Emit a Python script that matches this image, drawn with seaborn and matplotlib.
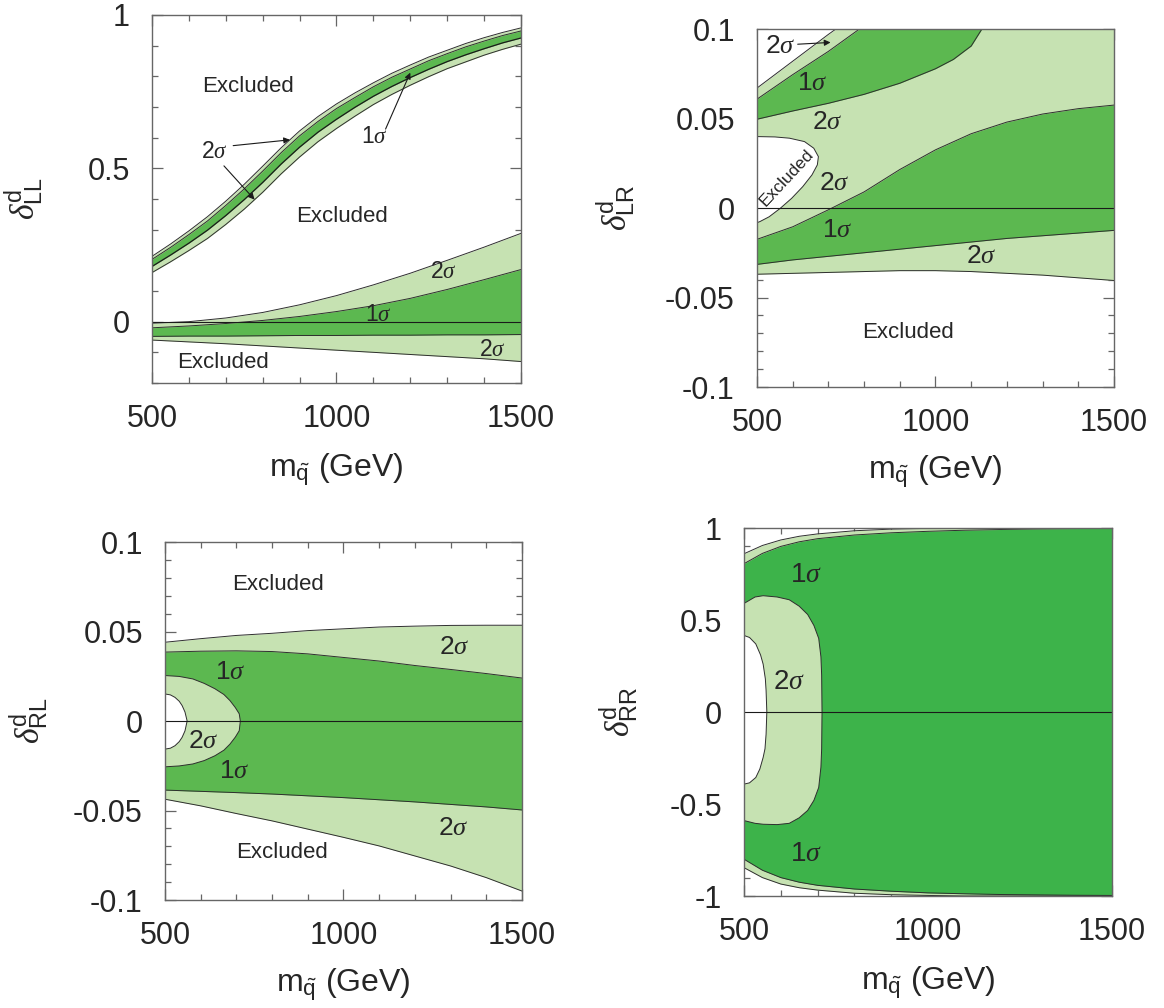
import matplotlib
matplotlib.use("Agg")
import matplotlib.pyplot as plt
from matplotlib.ticker import MultipleLocator
import seaborn as sns

# ---------------- data ----------------
# top-left: delta_LL, upper narrow band (grid every 50 GeV)
ll_up_m = [500, 550, 600, 650, 700, 750, 800, 850, 900, 950, 1000,
           1050, 1100, 1150, 1200, 1250, 1300, 1350, 1400, 1450, 1500]
ll_up_2hi = [0.213, 0.253, 0.296, 0.342, 0.393, 0.448, 0.507, 0.567, 0.622, 0.669, 0.710,
             0.746, 0.779, 0.810, 0.837, 0.863, 0.885, 0.907, 0.926, 0.943, 0.958]
ll_up_1hi = [0.203, 0.242, 0.284, 0.328, 0.379, 0.433, 0.491, 0.551, 0.606, 0.653, 0.695,
             0.731, 0.766, 0.797, 0.824, 0.851, 0.874, 0.896, 0.915, 0.933, 0.948]
ll_up_1lo = [0.180, 0.217, 0.256, 0.298, 0.346, 0.398, 0.454, 0.514, 0.569, 0.618, 0.660,
             0.699, 0.735, 0.767, 0.796, 0.823, 0.848, 0.870, 0.890, 0.909, 0.925]
ll_up_2lo = [0.160, 0.195, 0.232, 0.271, 0.317, 0.367, 0.422, 0.482, 0.537, 0.587, 0.630,
             0.670, 0.708, 0.741, 0.771, 0.799, 0.825, 0.847, 0.869, 0.888, 0.905]

# top-left: delta_LL, lower wedge band
m_grid = [500, 600, 700, 800, 900, 1000, 1100, 1200, 1300, 1400, 1500]
ll_lo_2hi = [-0.005, 0.0, 0.012, 0.03, 0.055, 0.085, 0.12, 0.158, 0.2, 0.243, 0.288]
ll_lo_1hi = [-0.02, -0.014, -0.006, 0.004, 0.017, 0.033, 0.052, 0.076, 0.105, 0.137, 0.17]
ll_lo_1lo = [-0.048, -0.047, -0.047, -0.046, -0.045, -0.045, -0.044, -0.044, -0.043, -0.043, -0.042]
ll_lo_2lo = [-0.060, -0.066, -0.072, -0.079, -0.086, -0.093, -0.100, -0.107, -0.114, -0.121, -0.130]

# top-right: delta_LR
lr_1hi_b = [-0.0175, -0.0105, -0.001, 0.009, 0.0215, 0.0325, 0.0415, 0.048, 0.0525, 0.0555, 0.0575]
lr_1lo_b = [-0.0315, -0.029, -0.027, -0.025, -0.023, -0.021, -0.019, -0.017, -0.0155, -0.014, -0.0125]
lr_2lo_b = [-0.037, -0.0365, -0.036, -0.0355, -0.035, -0.035, -0.0355, -0.0365, -0.0375, -0.039, -0.0405]
lr_1lo_a_m = [500, 600, 700, 800, 900, 1000, 1050, 1100, 1130]
lr_1lo_a = [0.0496, 0.0542, 0.0585, 0.0635, 0.0697, 0.0778, 0.083, 0.0905, 0.1]
lr_1hi_a_m = [500, 600, 700, 787]
lr_1hi_a = [0.0608, 0.0745, 0.0875, 0.1]
lr_2hi_a_m = [500, 600, 700, 721]
lr_2hi_a = [0.067, 0.082, 0.097, 0.1]
lr_excl_m = [500, 550, 591, 633, 659, 672, 669, 654, 628, 597, 565, 534, 508, 500]
lr_excl_v = [0.0399, 0.0397, 0.039, 0.0371, 0.0334, 0.0287, 0.0241, 0.0185, 0.0119,
             0.0054, -0.0002, -0.0049, -0.0076, -0.0082]

# bottom-left: delta_RL
rl_2hi = [0.044, 0.046, 0.0478, 0.049, 0.0505, 0.0515, 0.0525, 0.053, 0.0534, 0.0535, 0.0535]
rl_1hi = [0.0385, 0.039, 0.0392, 0.0388, 0.0375, 0.0355, 0.0335, 0.031, 0.0288, 0.0265, 0.024]
rl_1lo = [-0.0386, -0.0393, -0.04, -0.0408, -0.0418, -0.0428, -0.044, -0.0452, -0.0466, -0.048, -0.0497]
rl_2lo = [-0.0437, -0.0474, -0.0517, -0.0558, -0.0604, -0.065, -0.0698, -0.0754, -0.081, -0.0875, -0.095]
rl_in2_m = [500, 540, 578, 610, 640, 665, 682, 697, 708, 711, 708, 697, 682, 665, 640, 610, 578, 540, 500]
rl_in2_v = [0.0254, 0.0249, 0.0235, 0.021, 0.018, 0.0148, 0.0114, 0.0075, 0.004, 0.0,
            -0.0054, -0.009, -0.0129, -0.0163, -0.0194, -0.0221, -0.024, -0.0251, -0.0256]
rl_in1_m = [500, 515, 528, 540, 548, 556, 562, 556, 548, 540, 528, 515, 500]
rl_in1_v = [0.0151, 0.0146, 0.0132, 0.011, 0.0086, 0.005, 0.0, -0.0055, -0.0091,
            -0.0115, -0.0138, -0.0152, -0.0157]

# bottom-right: delta_RR
rr_m = [500, 550, 600, 650, 700, 800, 900, 1000, 1100, 1200, 1300, 1400, 1500]
rr_2hi = [0.86, 0.905, 0.935, 0.955, 0.968, 0.985, 0.994, 0.998, 1.0, 1.0, 1.0, 1.0, 1.0]
rr_1hi = [0.806, 0.862, 0.9, 0.925, 0.942, 0.962, 0.974, 0.982, 0.988, 0.992, 0.995, 0.997, 0.998]
rr_1lo = [-0.80, -0.86, -0.9, -0.925, -0.942, -0.962, -0.974, -0.983, -0.988, -0.992, -0.994, -0.996, -0.997]
rr_2lo = [-0.846, -0.9, -0.935, -0.955, -0.968, -0.985, -0.993, -0.997, -1.0, -1.0, -1.0, -1.0, -1.0]
rr_in2_m = [500, 530, 552, 590, 623, 650, 673, 690, 703, 709, 711, 712, 711, 709, 703,
            690, 673, 650, 623, 590, 552, 530, 500]
rr_in2_v = [0.59, 0.625, 0.632, 0.625, 0.61, 0.575, 0.53, 0.47, 0.40, 0.30, 0.2, 0.0,
            -0.2, -0.3, -0.41, -0.48, -0.535, -0.575, -0.605, -0.612, -0.61, -0.605, -0.59]
rr_in1_m = [500, 515, 532, 545, 552, 558, 560, 562, 560, 557, 552, 543, 532, 515, 500]
rr_in1_v = [0.416, 0.405, 0.37, 0.31, 0.26, 0.18, 0.116, 0.0, -0.12, -0.2, -0.247,
            -0.31, -0.356, -0.385, -0.392]

# ticks
x_ticks = [500, 1000, 1500]
x_ticklabels = ['500', '1000', '1500']
ll_yticks = [0, 0.5, 1]
ll_yticklabels = ['0', '0.5', '1']
small_yticks = [-0.1, -0.05, 0, 0.05, 0.1]
small_yticklabels = ['-0.1', '-0.05', '0', '0.05', '0.1']
rr_yticks = [-1, -0.5, 0, 0.5, 1]
rr_yticklabels = ['-1', '-0.5', '0', '0.5', '1']

LIGHT = '#c6e2b2'
DARK = '#5cb850'
DARK_RR = '#3db34a'
EDGE = '#2e2e2e'

sns.set_theme(style="ticks")
plt.rcParams['font.family'] = ['Liberation Sans', 'DejaVu Sans']
plt.rcParams['mathtext.fontset'] = 'custom'
plt.rcParams['mathtext.rm'] = 'Liberation Sans'
plt.rcParams['mathtext.it'] = 'Liberation Serif:italic'
plt.rcParams['mathtext.sf'] = 'Liberation Sans'
plt.rcParams['axes.unicode_minus'] = False

fig = plt.figure(figsize=(11.64, 10.08), dpi=100)
ax1 = fig.add_axes([0.13058, 0.62004, 0.31701, 0.36508])
ax2 = fig.add_axes([0.65034, 0.61607, 0.30670, 0.35516])
ax3 = fig.add_axes([0.14175, 0.10714, 0.30670, 0.35516])
ax4 = fig.add_axes([0.63918, 0.11111, 0.31615, 0.36508])


def edge(ax, x, y, lw=0.7, color=EDGE):
    sns.lineplot(x=x, y=y, ax=ax, color=color, linewidth=lw,
                 estimator=None, sort=False, legend=False)


def setup(ax, ylim, yticks, ylabels, yminor, ylab, ylab_x):
    ax.axhline(0, color='k', lw=0.8)
    ax.set_xlim(500, 1500)
    ax.set_ylim(*ylim)
    ax.set_xticks(x_ticks)
    ax.set_xticklabels(x_ticklabels)
    ax.xaxis.set_minor_locator(MultipleLocator(100))
    ax.set_yticks(yticks)
    ax.set_yticklabels(ylabels)
    ax.yaxis.set_minor_locator(MultipleLocator(yminor))
    ax.tick_params(which='both', direction='in', top=True, right=True,
                   color='#666666', width=0.9)
    ax.tick_params(which='major', length=8)
    ax.tick_params(which='minor', length=4.5)
    ax.tick_params(axis='x', which='major', pad=15, labelsize=22)
    ax.tick_params(axis='y', which='major', pad=16, labelsize=22)
    for s in ax.spines.values():
        s.set_color('#666666')
        s.set_linewidth(1.0)
        s.set_zorder(5)
    ax.set_xlabel(r'm$_{\tilde{\rm q}}$ (GeV)', fontsize=23)
    ax.xaxis.set_label_coords(0.5, -0.185)
    ax.set_ylabel(ylab, fontsize=24)
    ax.yaxis.set_label_coords(ylab_x, 0.5)


def arrow(ax, tip, start):
    ax.annotate('', xy=tip, xytext=start,
                arrowprops=dict(arrowstyle='-|>', color='k', lw=0.8,
                                mutation_scale=9, shrinkA=0, shrinkB=0))


def label(ax, x, y, s, size):
    ax.text(x, y, s, fontsize=size, ha='center', va='center')


# ---- panel 1: LL ----
ax = ax1
ax.fill_between(ll_up_m, ll_up_2lo, ll_up_2hi, color=LIGHT, lw=0)
ax.fill_between(ll_up_m, ll_up_1lo, ll_up_1hi, color=DARK, lw=0)
ax.fill_between(m_grid, ll_lo_2lo, ll_lo_2hi, color=LIGHT, lw=0)
ax.fill_between(m_grid, ll_lo_1lo, ll_lo_1hi, color=DARK, lw=0)
for yy in (ll_up_2hi, ll_up_1hi, ll_up_2lo):
    edge(ax, ll_up_m, yy)
edge(ax, ll_up_m, ll_up_1lo, lw=0.9, color='k')
for yy in (ll_lo_2hi, ll_lo_1hi, ll_lo_1lo, ll_lo_2lo):
    edge(ax, m_grid, yy)
label(ax, 760, 0.767, 'Excluded', 16)
label(ax, 1014, 0.342, 'Excluded', 16)
label(ax, 692, -0.132, 'Excluded', 16)
label(ax, 668, 0.554, r'2$\sigma$', 16.5)
label(ax, 1102, 0.603, r'1$\sigma$', 16.5)
label(ax, 1290, 0.163, r'2$\sigma$', 16.5)
label(ax, 1114, 0.024, r'1$\sigma$', 16.5)
label(ax, 1423, -0.092, r'2$\sigma$', 16.5)
arrow(ax, (874, 0.593), (720, 0.574))
arrow(ax, (778, 0.398), (695, 0.508))
arrow(ax, (1200, 0.812), (1133, 0.628))
setup(ax, (-0.2, 1.0), ll_yticks, ll_yticklabels, 0.1,
      r'$\delta^{\rm d}_{\rm LL}$', -0.287)

# ---- panel 2: LR ----
ax = ax2
ax.fill_between(m_grid, lr_2lo_b, 0.1, color=LIGHT, lw=0)
ax.fill_between(lr_1lo_a_m, lr_1lo_a, 0.1, color=DARK, lw=0)
ax.fill_between(lr_1hi_a_m, lr_1hi_a, 0.1, color=LIGHT, lw=0)
ax.fill_between(lr_2hi_a_m, lr_2hi_a, 0.1, color='white', lw=0)
ax.fill_between(m_grid, lr_1lo_b, lr_1hi_b, color=DARK, lw=0)
ax.fill(lr_excl_m, lr_excl_v, color='white', lw=0)
for mm, yy in ((m_grid, lr_1hi_b), (m_grid, lr_1lo_b), (m_grid, lr_2lo_b),
               (lr_1lo_a_m, lr_1lo_a), (lr_1hi_a_m, lr_1hi_a),
               (lr_2hi_a_m, lr_2hi_a), (lr_excl_m, lr_excl_v)):
    edge(ax, mm, yy)
label(ax, 565, 0.0903, r'2$\sigma$', 19)
arrow(ax, (706, 0.0925), (614, 0.0915))
label(ax, 654, 0.0698, r'1$\sigma$', 19)
label(ax, 697, 0.0483, r'2$\sigma$', 19)
ax.text(582, 0.0168, 'Excluded', fontsize=12.5, ha='center', va='center', rotation=47)
label(ax, 716, 0.0138, r'2$\sigma$', 19)
label(ax, 726, -0.0123, r'1$\sigma$', 19)
label(ax, 1129, -0.0269, r'2$\sigma$', 19)
label(ax, 924, -0.0698, 'Excluded', 16)
setup(ax, (-0.1, 0.1), small_yticks, small_yticklabels, 0.01,
      r'$\delta^{\rm d}_{\rm LR}$', -0.333)

# ---- panel 3: RL ----
ax = ax3
ax.fill_between(m_grid, rl_2lo, rl_2hi, color=LIGHT, lw=0)
ax.fill_between(m_grid, rl_1lo, rl_1hi, color=DARK, lw=0)
ax.fill(rl_in2_m, rl_in2_v, color=LIGHT, lw=0)
ax.fill(rl_in1_m, rl_in1_v, color='white', lw=0)
for mm, yy in ((m_grid, rl_2hi), (m_grid, rl_1hi), (m_grid, rl_1lo), (m_grid, rl_2lo),
               (rl_in2_m, rl_in2_v), (rl_in1_m, rl_in1_v)):
    edge(ax, mm, yy)
label(ax, 817, 0.0761, 'Excluded', 16)
label(ax, 1310, 0.0416, r'2$\sigma$', 19)
label(ax, 682, 0.0276, r'1$\sigma$', 19)
label(ax, 607, -0.011, r'2$\sigma$', 19)
label(ax, 694, -0.0278, r'1$\sigma$', 19)
label(ax, 1307, -0.0595, r'2$\sigma$', 19)
label(ax, 827, -0.0735, 'Excluded', 16)
setup(ax, (-0.1, 0.1), small_yticks, small_yticklabels, 0.01,
      r'$\delta^{\rm d}_{\rm RL}$', -0.32)

# ---- panel 4: RR ----
ax = ax4
ax.fill_between(rr_m, rr_2lo, rr_2hi, color=LIGHT, lw=0)
ax.fill_between(rr_m, rr_1lo, rr_1hi, color=DARK_RR, lw=0)
ax.fill(rr_in2_m, rr_in2_v, color=LIGHT, lw=0)
ax.fill(rr_in1_m, rr_in1_v, color='white', lw=0)
for mm, yy in ((rr_m, rr_2hi), (rr_m, rr_1hi), (rr_m, rr_1lo), (rr_m, rr_2lo),
               (rr_in2_m, rr_in2_v), (rr_in1_m, rr_in1_v)):
    edge(ax, mm, yy)
label(ax, 668, 0.742, r'1$\sigma$', 20)
label(ax, 623, 0.161, r'2$\sigma$', 20)
label(ax, 668, -0.773, r'1$\sigma$', 20)
setup(ax, (-1, 1), rr_yticks, rr_yticklabels, 0.1,
      r'$\delta^{\rm d}_{\rm RR}$', -0.28)

fig.savefig('out.png', dpi=100)
